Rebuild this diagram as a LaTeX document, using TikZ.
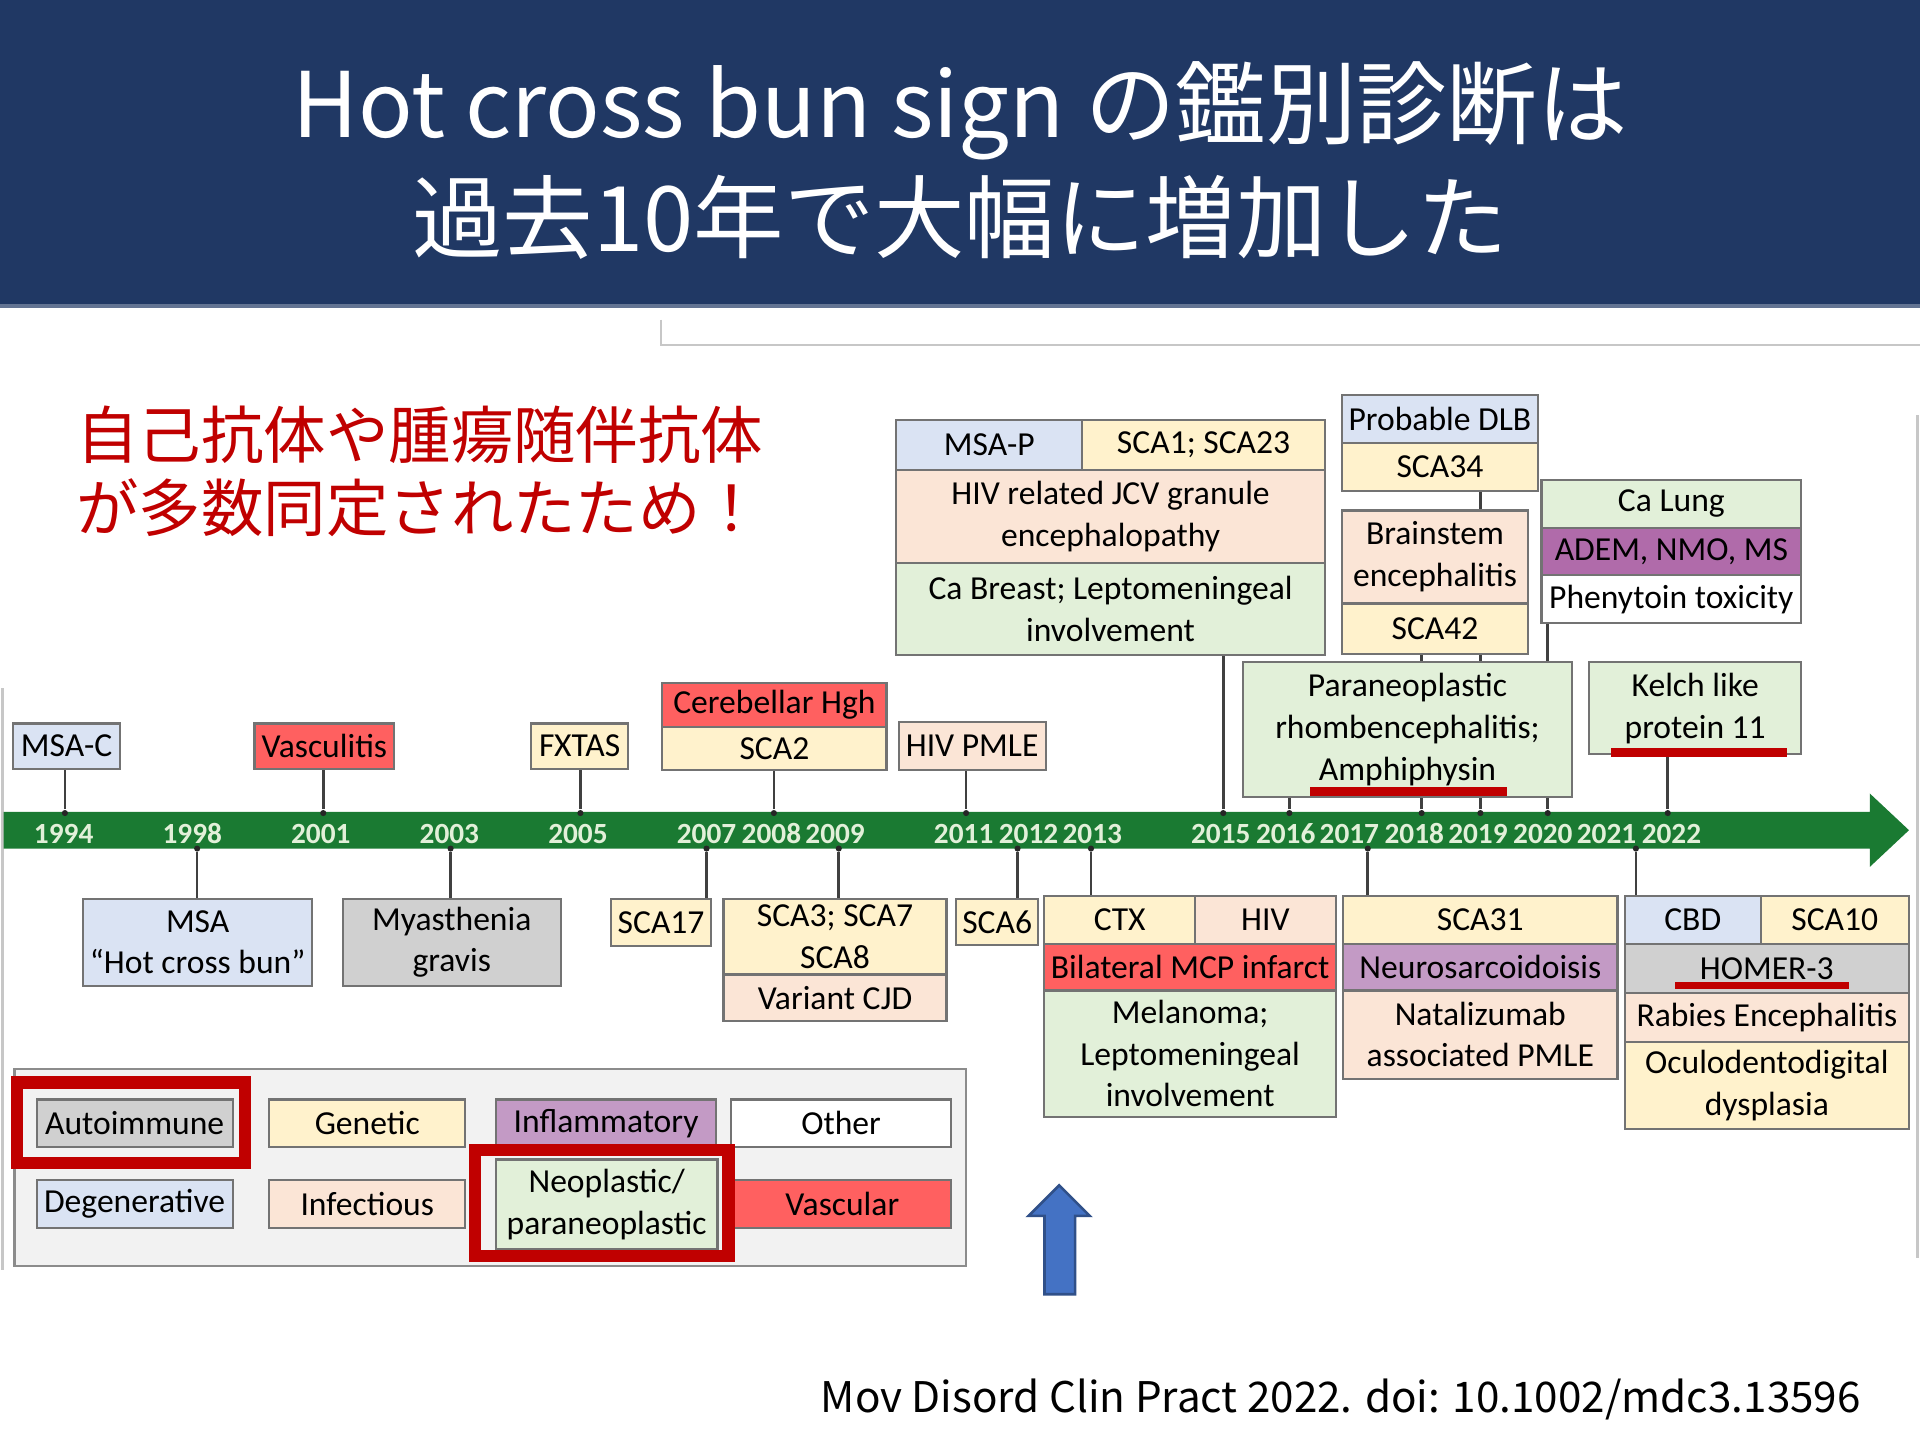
\documentclass[tikz,border=0pt]{standalone}
\usepackage{fontspec}
\usepackage{xcolor}
\usepackage{tikz}
\usetikzlibrary{backgrounds}
\setmainfont{Carlito}
\newfontfamily\jpfont{Noto Sans CJK JP}
\newcommand{\evfont}{\fontsize{7.8}{9.7}\selectfont}
\newcommand{\yrfont}{\fontsize{6.8}{8}\selectfont\bfseries}
\definecolor{degen}{HTML}{DAE3F3}
\definecolor{genetic}{HTML}{FFF2CC}
\definecolor{infect}{HTML}{FBE5D6}
\definecolor{neo}{HTML}{E2F0D9}
\definecolor{vasc}{HTML}{FF6060}
\definecolor{autoimm}{HTML}{D0D0D0}
\definecolor{inflam}{HTML}{C39AC5}
\definecolor{ademc}{HTML}{B06BAA}
\definecolor{banner}{HTML}{203864}
\definecolor{barg}{HTML}{1A7A32}
\definecolor{redtxt}{HTML}{C00000}
\definecolor{arrowb}{HTML}{4472C4}

\begin{document}
\begin{tikzpicture}[x=0.01cm,y=-0.01cm,
ev_box/.style={draw=black!55,line width=0.5pt,anchor=north west,align=center,inner sep=0pt,font=\evfont},
yr_node/.style={text=neo,font=\yrfont,inner sep=0pt},
tick_dot/.style={circle,fill=black!85,inner sep=0pt,minimum size=0.05cm},
red_frame/.style={draw=redtxt,line width=0.1cm},
link/.style={draw=black!75,line width=0.6pt}]

\useasboundingbox (0,0) rectangle (1568,1176);

\fill[banner] (0,0) rectangle (1568,250);
\draw[banner!70!white,line width=0.8pt] (0,250) -- (1568,250);
\node[text=white,align=center,font=\jpfont\fontsize{21}{26.4}\selectfont] (title) at (784,131) {Hot cross bun sign の鑑別診断は\\過去10年で大幅に増加した};

\draw[black!22,line width=0.5pt] (540,261) -- (540,282) -- (1568,282);
\draw[black!22,line width=0.5pt] (1566,339) -- (1566,1027);
\draw[black!22,line width=0.5pt] (2,562) -- (2,1037);

\node[anchor=west,align=left,text=redtxt,font=\jpfont\fontsize{14.5}{17}\selectfont] (note) at (50,385) {自己抗体や腫瘍随伴抗体\\が多数同定されたため！};

\fill[barg] (3,663) -- (1527,663) -- (1527,648) -- (1559,678) -- (1527,708) -- (1527,693) -- (3,693) -- cycle;

\node[yr_node] (y1994) at (52,681) {1994};
\node[yr_node] (y1998) at (157,681) {1998};
\node[yr_node] (y2001) at (262,681) {2001};
\node[yr_node] (y2003) at (367,681) {2003};
\node[yr_node] (y2005) at (472,681) {2005};
\node[yr_node] (y2007) at (577,681) {2007};
\node[yr_node] (y2008) at (630,681) {2008};
\node[yr_node] (y2009) at (682,681) {2009};
\node[yr_node] (y2011) at (787,681) {2011};
\node[yr_node] (y2012) at (840,681) {2012};
\node[yr_node] (y2013) at (892,681) {2013};
\node[yr_node] (y2015) at (997,681) {2015};
\node[yr_node] (y2016) at (1050,681) {2016};
\node[yr_node] (y2017) at (1102,681) {2017};
\node[yr_node] (y2018) at (1155,681) {2018};
\node[yr_node] (y2019) at (1207,681) {2019};
\node[yr_node] (y2020) at (1260,681) {2020};
\node[yr_node] (y2021) at (1312,681) {2021};
\node[yr_node] (y2022) at (1365,681) {2022};

\node[tick_dot] (t1994) at (53,664) {};
\node[tick_dot] (t2001) at (264,664) {};
\node[tick_dot] (t2005) at (474,664) {};
\node[tick_dot] (t2008) at (632,664) {};
\node[tick_dot] (t2011) at (789,664) {};
\node[tick_dot] (t2015) at (999,664) {};
\node[tick_dot] (t2016) at (1053,664) {};
\node[tick_dot] (t2018) at (1161,664) {};
\node[tick_dot] (t2019) at (1209,664) {};
\node[tick_dot] (t2020) at (1264,664) {};
\node[tick_dot] (t2022) at (1362,664) {};
\node[tick_dot] (b1998) at (161,693) {};
\node[tick_dot] (b2003) at (368,693) {};
\node[tick_dot] (b2007) at (577,693) {};
\node[tick_dot] (b2009) at (685,693) {};
\node[tick_dot] (b2012) at (831,693) {};
\node[tick_dot] (b2013) at (891,693) {};
\node[tick_dot] (b2017) at (1117,693) {};
\node[tick_dot] (b2021) at (1336,693) {};

\node[ev_box,fill=degen,minimum width=0.87cm,minimum height=0.37cm] (msac) at (10,590) {MSA-C};
\node[ev_box,fill=vasc,minimum width=1.14cm,minimum height=0.37cm] (vascu) at (207,590) {Vasculitis};
\node[ev_box,fill=genetic,minimum width=0.79cm,minimum height=0.37cm] (fxtas) at (433,590) {FXTAS};
\node[ev_box,fill=vasc,minimum width=1.83cm,minimum height=0.36cm] (cereb) at (540,557) {Cerebellar Hgh};
\node[ev_box,fill=genetic,minimum width=1.83cm,minimum height=0.35cm] (sca2) at (540,593) {SCA2};
\node[ev_box,fill=infect,minimum width=1.20cm,minimum height=0.39cm] (hivpmle) at (733,589) {HIV PMLE};
\node[ev_box,fill=degen,minimum width=1.52cm,minimum height=0.41cm] (msap) at (731,342) {MSA-P};
\node[ev_box,fill=genetic,minimum width=1.98cm,minimum height=0.41cm] (sca1) at (883,342) {SCA1; SCA23};
\node[ev_box,fill=infect,minimum width=3.50cm,minimum height=0.76cm] (jcv) at (731,383) {HIV related JCV granule\\encephalopathy};
\node[ev_box,fill=neo,minimum width=3.50cm,minimum height=0.75cm] (cabreast) at (731,459) {Ca Breast; Leptomeningeal\\involvement};
\node[ev_box,fill=degen,minimum width=1.60cm,minimum height=0.39cm] (dlb) at (1095,322) {Probable DLB};
\node[ev_box,fill=genetic,minimum width=1.60cm,minimum height=0.39cm] (sca34) at (1095,361) {SCA34};
\node[ev_box,fill=infect,minimum width=1.52cm,minimum height=0.76cm] (brainstem) at (1095,416) {Brainstem\\encephalitis};
\node[ev_box,fill=genetic,minimum width=1.52cm,minimum height=0.41cm] (sca42) at (1095,492) {SCA42};
\node[ev_box,fill=neo,minimum width=2.12cm,minimum height=0.39cm] (calung) at (1258,391) {Ca Lung};
\node[ev_box,fill=ademc,minimum width=2.12cm,minimum height=0.39cm] (adem) at (1258,430) {ADEM, NMO, MS};
\node[ev_box,fill=white,minimum width=2.12cm,minimum height=0.39cm] (pheny) at (1258,469) {Phenytoin toxicity};
\node[ev_box,fill=neo,minimum width=2.69cm,minimum height=1.10cm] (pnrh) at (1014,540) {Paraneoplastic\\rhombencephalitis;\\Amphiphysin};
\node[ev_box,fill=neo,minimum width=1.73cm,minimum height=0.75cm] (kelch) at (1297,540) {Kelch like\\protein 11};

\node[ev_box,fill=degen,minimum width=1.87cm,minimum height=0.71cm] (msa) at (67,733) {MSA\\“Hot cross bun”};
\node[ev_box,fill=autoimm,minimum width=1.78cm,minimum height=0.71cm] (myas) at (279,733) {Myasthenia\\gravis};
\node[ev_box,fill=genetic,minimum width=0.82cm,minimum height=0.39cm] (sca17) at (498,733) {SCA17};
\node[ev_box,fill=genetic,minimum width=1.82cm,minimum height=0.62cm] (sca378) at (590,733) {SCA3; SCA7\\SCA8};
\node[ev_box,fill=infect,minimum width=1.82cm,minimum height=0.38cm] (vcjd) at (590,795) {Variant CJD};
\node[ev_box,fill=genetic,minimum width=0.67cm,minimum height=0.38cm] (sca6) at (780,733) {SCA6};
\node[ev_box,fill=genetic,minimum width=1.23cm,minimum height=0.39cm] (ctx) at (852,731) {CTX};
\node[ev_box,fill=infect,minimum width=1.15cm,minimum height=0.39cm] (hiv) at (975,731) {HIV};
\node[ev_box,fill=vasc,minimum width=2.38cm,minimum height=0.38cm] (mcp) at (852,770) {Bilateral MCP infarct};
\node[ev_box,fill=neo,minimum width=2.38cm,minimum height=1.03cm] (melan) at (852,808) {Melanoma;\\Leptomeningeal\\involvement};
\node[ev_box,fill=genetic,minimum width=2.24cm,minimum height=0.39cm] (sca31) at (1096,731) {SCA31};
\node[ev_box,fill=inflam,minimum width=2.24cm,minimum height=0.38cm] (neuros) at (1096,770) {Neurosarcoidoisis};
\node[ev_box,fill=infect,minimum width=2.24cm,minimum height=0.72cm] (natal) at (1096,808) {Natalizumab\\associated PMLE};
\node[ev_box,fill=degen,minimum width=1.11cm,minimum height=0.39cm] (cbd) at (1326,731) {CBD};
\node[ev_box,fill=genetic,minimum width=1.21cm,minimum height=0.39cm] (sca10) at (1437,731) {SCA10};
\node[ev_box,fill=autoimm,minimum width=2.32cm,minimum height=0.40cm] (homer) at (1326,770) {HOMER-3};
\node[ev_box,fill=infect,minimum width=2.32cm,minimum height=0.40cm] (rabies) at (1326,810) {Rabies Encephalitis};
\node[ev_box,fill=genetic,minimum width=2.32cm,minimum height=0.71cm] (oculo) at (1326,850) {Oculodentodigital\\dysplasia};

\begin{pgfonlayer}{background}
\path[link]
(t1994) edge (t1994 |- msac.south)
(t2001) edge (t2001 |- vascu.south)
(t2005) edge (t2005 |- fxtas.south)
(t2008) edge (t2008 |- sca2.south)
(t2011) edge (t2011 |- hivpmle.south)
(t2015) edge (t2015 |- cabreast.south)
(t2016) edge (t2016 |- pnrh.south)
(t2018) edge (t2018 |- sca42.south)
(t2019) edge (t2019 |- sca34.south)
(t2020) edge (t2020 |- pheny.south)
(t2022) edge (t2022 |- kelch.south)
(b1998) edge (b1998 |- msa.north)
(b2003) edge (b2003 |- myas.north)
(b2007) edge (b2007 |- sca17.north)
(b2009) edge (b2009 |- sca378.north)
(b2012) edge (b2012 |- sca6.north)
(b2013) edge (b2013 |- ctx.north)
(b2017) edge (b2017 |- sca31.north)
(b2021) edge (b2021 |- cbd.north)
;
\end{pgfonlayer}

\fill[redtxt] (1316,611) rectangle (1459,618);
\fill[redtxt] (1070,643) rectangle (1231,650);
\fill[redtxt] (1368,802) rectangle (1510,808);

\draw[fill=black!5,draw=black!45,line width=0.6pt] (12,873) rectangle (789,1034);
\node[ev_box,fill=autoimm,minimum width=1.60cm,minimum height=0.39cm] (l_auto) at (29,897) {Autoimmune};
\node[ev_box,fill=genetic,minimum width=1.60cm,minimum height=0.39cm] (l_gen) at (219,897) {Genetic};
\node[ev_box,fill=inflam,minimum width=1.80cm,minimum height=0.39cm] (l_infl) at (404,897) {Inflammatory};
\node[ev_box,fill=white,minimum width=1.80cm,minimum height=0.39cm] (l_oth) at (596,897) {Other};
\node[ev_box,fill=degen,minimum width=1.60cm,minimum height=0.39cm] (l_deg) at (29,963) {Degenerative};
\node[ev_box,fill=infect,minimum width=1.60cm,minimum height=0.39cm] (l_inf) at (219,963) {Infectious};
\node[ev_box,fill=neo,minimum width=1.81cm,minimum height=0.73cm] (l_neo) at (404,946) {Neoplastic/\\paraneoplastic};
\node[ev_box,fill=vasc,minimum width=1.78cm,minimum height=0.39cm] (l_vas) at (598,963) {Vascular};
\draw[red_frame] (14,884) rectangle (200,950);
\draw[red_frame] (388,939) rectangle (595,1026);

\filldraw[fill=arrowb,draw=arrowb!70!black,line width=0.6pt] (853,1057) -- (853,993) -- (840,993) -- (865,968) -- (890,993) -- (878,993) -- (878,1057) -- cycle;

\node[font=\jpfont\fontsize{9.8}{11}\selectfont] (cite) at (1095,1143) {Mov Disord Clin Pract 2022. doi: 10.1002/mdc3.13596};

\end{tikzpicture}
\end{document}
